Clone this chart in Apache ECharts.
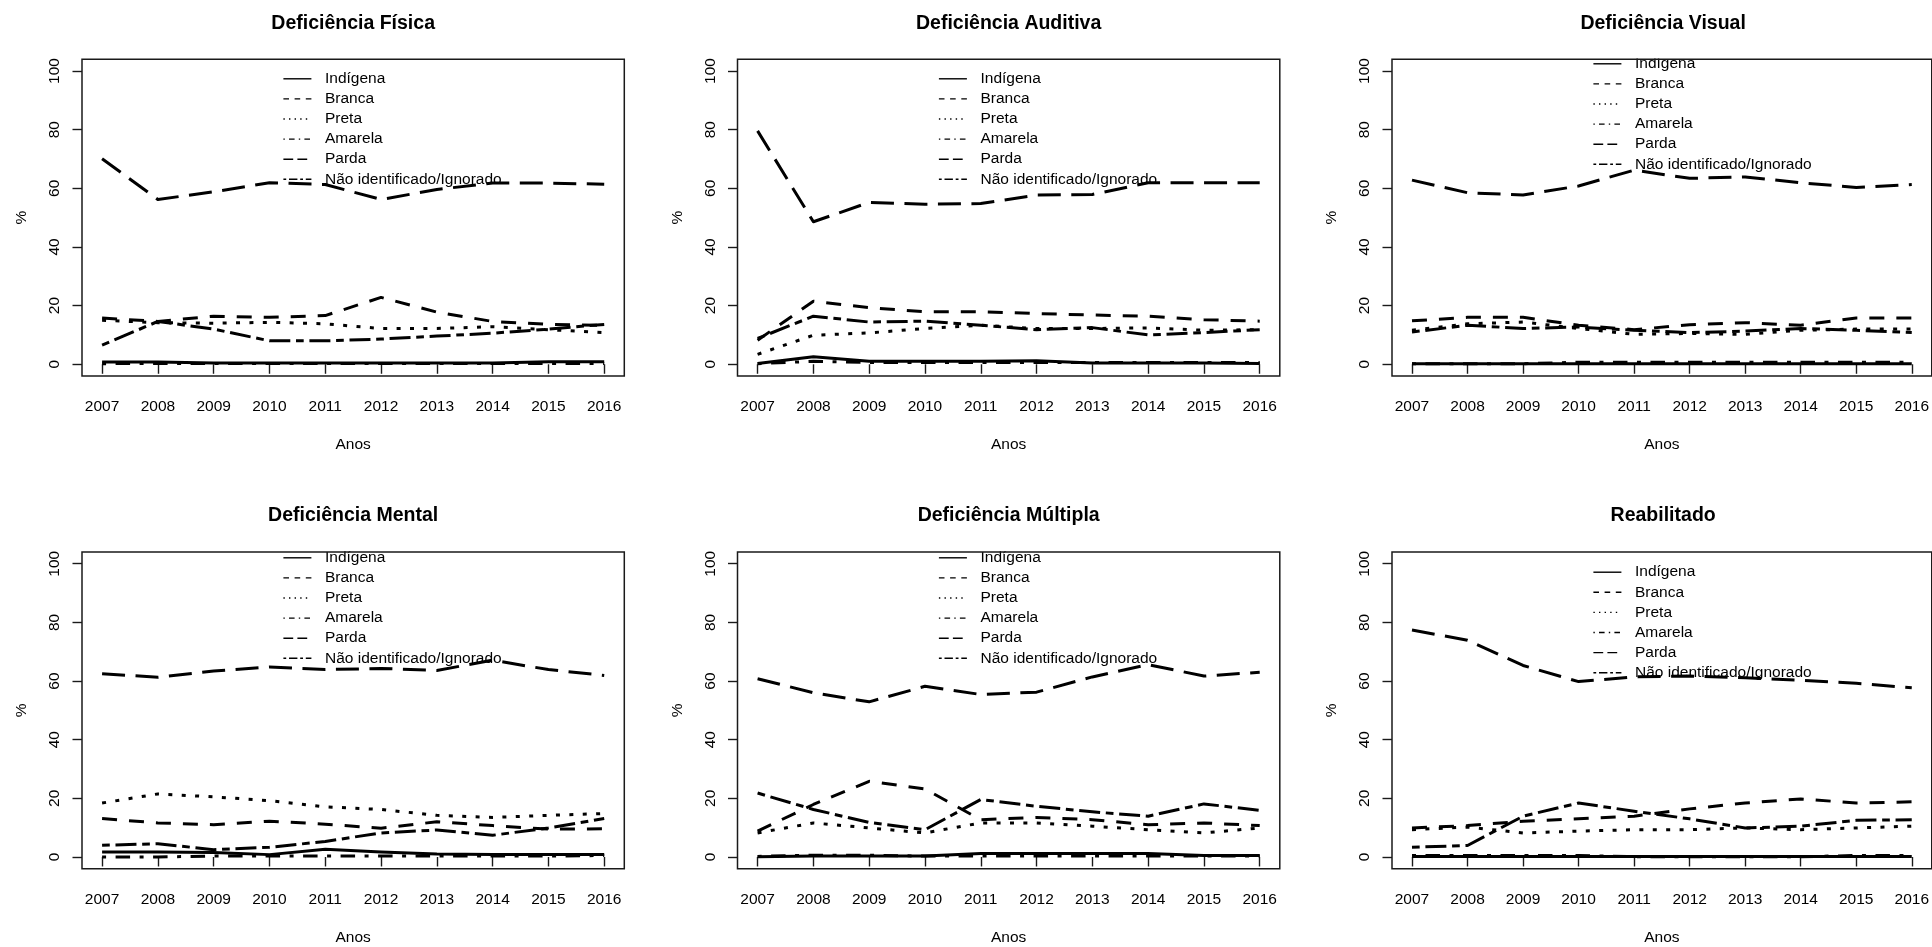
<!DOCTYPE html>
<html>
<head>
<meta charset="utf-8">
<script src="https://cdn.jsdelivr.net/npm/echarts@6/dist/echarts.min.js"></script>
<style>
  html, body { margin: 0; padding: 0; background: #fff; }
  #chart { width: 1932px; height: 947px; }
</style>
</head>
<body>
<div id="chart"></div>
<script>
// Share of workers with disability by colour/race, 2007-2016 (%)
const years = [2007, 2008, 2009, 2010, 2011, 2012, 2013, 2014, 2015, 2016];
const yTicks = [0, 20, 40, 60, 80, 100];
const groups = ['Indígena', 'Branca', 'Preta', 'Amarela', 'Parda', 'Não identificado/Ignorado'];
const titles = ['Deficiência Física', 'Deficiência Auditiva', 'Deficiência Visual',
                'Deficiência Mental', 'Deficiência Múltipla', 'Reabilitado'];

// Each panel: one row per group, in the order of `groups`
const fisica = [
  [0.8, 0.8, 0.4, 0.4, 0.4, 0.4, 0.4, 0.4, 0.9, 0.9],
  [15.8, 14.6, 16.4, 16.0, 16.6, 22.8, 17.8, 14.6, 13.6, 13.3],
  [15.0, 14.2, 14.0, 14.3, 13.8, 12.2, 12.2, 12.8, 11.8, 10.8],
  [0.2, 0.3, 0.3, 0.3, 0.3, 0.3, 0.3, 0.3, 0.3, 0.3],
  [70.1, 56.2, 58.8, 61.9, 61.3, 56.2, 59.6, 61.8, 61.8, 61.4],
  [6.5, 14.6, 12.0, 8.0, 8.0, 8.6, 9.6, 10.6, 12.0, 13.6]
];
const auditiva = [
  [0.3, 2.6, 1.0, 1.0, 1.0, 1.2, 0.4, 0.4, 0.4, 0.3],
  [8.2, 21.5, 19.3, 17.9, 17.9, 17.3, 16.8, 16.4, 15.2, 14.7],
  [3.4, 9.9, 10.7, 12.2, 13.3, 12.2, 12.2, 12.4, 11.6, 11.8],
  [0.2, 1.0, 0.6, 0.6, 0.6, 0.6, 0.6, 0.6, 0.6, 0.6],
  [79.6, 48.6, 55.2, 54.6, 54.8, 57.7, 57.9, 61.9, 61.9, 61.9],
  [8.8, 16.4, 14.4, 14.7, 13.3, 11.8, 12.5, 10.0, 10.8, 11.8]
];
const visual = [
  [0.2, 0.2, 0.2, 0.2, 0.2, 0.2, 0.2, 0.2, 0.2, 0.2],
  [14.8, 16.0, 16.0, 13.3, 11.8, 13.5, 14.2, 13.3, 15.8, 15.8],
  [11.6, 13.8, 14.4, 12.2, 10.2, 10.5, 10.2, 11.6, 12.0, 12.0],
  [0.2, 0.2, 0.2, 0.7, 0.7, 0.7, 0.7, 0.7, 0.7, 0.7],
  [62.8, 58.5, 57.7, 60.8, 66.2, 63.4, 63.9, 61.9, 60.3, 61.3],
  [11.0, 13.3, 12.2, 12.7, 11.6, 10.8, 11.3, 12.2, 11.6, 10.8]
];
const mental = [
  [1.7, 1.7, 1.5, 0.8, 2.6, 1.7, 1.0, 0.8, 0.8, 0.8],
  [13.1, 11.6, 11.0, 12.2, 11.2, 9.8, 12.0, 10.7, 9.5, 9.6],
  [18.4, 21.5, 20.5, 19.2, 17.1, 16.2, 14.2, 13.5, 14.2, 14.8],
  [0.0, 0.0, 0.3, 0.3, 0.3, 0.3, 0.3, 0.3, 0.3, 0.5],
  [62.5, 61.3, 63.4, 64.8, 63.9, 64.3, 63.6, 67.1, 63.9, 61.9],
  [4.0, 4.5, 2.5, 3.3, 5.3, 8.2, 9.2, 7.4, 9.9, 13.1]
];
const multipla = [
  [0.1, 0.3, 0.3, 0.3, 1.2, 1.2, 1.2, 1.2, 0.5, 0.5],
  [8.8, 17.9, 25.8, 23.2, 12.7, 13.5, 12.7, 11.0, 11.6, 10.7],
  [8.2, 11.6, 9.9, 8.2, 11.6, 11.6, 10.5, 9.3, 8.2, 9.9],
  [0.2, 0.6, 0.6, 0.3, 0.3, 0.3, 0.3, 0.3, 0.3, 0.3],
  [60.8, 56.0, 52.9, 58.2, 55.4, 56.2, 61.4, 65.6, 61.7, 63.0],
  [21.8, 16.2, 11.8, 9.3, 19.6, 17.3, 15.4, 13.9, 18.1, 15.9]
];
const reabilitado = [
  [0.2, 0.2, 0.2, 0.2, 0.2, 0.2, 0.2, 0.2, 0.2, 0.2],
  [9.9, 10.7, 12.2, 13.0, 13.9, 16.4, 18.4, 19.8, 18.4, 18.8],
  [9.3, 10.2, 8.2, 8.8, 9.3, 9.3, 9.9, 9.3, 9.9, 10.5],
  [0.5, 0.5, 0.5, 0.5, 0.1, 0.1, 0.1, 0.1, 0.5, 0.5],
  [77.4, 73.9, 65.3, 59.8, 61.4, 61.7, 61.1, 60.3, 59.2, 57.7],
  [3.3, 3.9, 13.9, 18.4, 15.6, 13.0, 9.9, 10.5, 12.5, 12.7]
];
const panels = [fisica, auditiva, visual, mental, multipla, reabilitado];

// Line types: solid, dashed, dotted, dot-dash, long-dash, two-dash
const plotDash = ['solid', [15, 12], [4, 9.4], [4, 9.5, 14.5, 9.5], [23, 10.5], [7.7, 5.7, 21, 5.7]];
const keyDash = ['solid', [5.6, 5.6], [1.4, 4.2], [1.4, 4.2, 5.6, 4.2], [9.8, 4.2], [2.8, 2.8, 8.4, 2.8]];

const FONT = "'Liberation Sans', Arial, sans-serif";
const INK = '#000';
const colLeft = [82, 737.5, 1392];
const rowTop = [59.3, 552];
const boxW = 542.3, boxH = 316.7;
const keyRowOffset = [19, 19, 4, 5.3, 5.3, 19.7];
const keyLeft = 200.7;

const option = {
  animation: false,
  backgroundColor: '#fff',
  title: [], grid: [], xAxis: [], yAxis: [], legend: [], series: [], graphic: []
};

panels.forEach((vals, p) => {
  const left = colLeft[p % 3];
  const top = rowTop[Math.floor(p / 3)];

  option.grid.push({
    left: left, top: top, width: boxW, height: boxH,
    show: true, borderColor: '#1a1a1a', borderWidth: 1.5,
    backgroundColor: 'transparent', z: 20
  });

  option.title.push({
    text: titles[p],
    left: left + boxW / 2, top: top - 46,
    textAlign: 'center', padding: 0,
    textStyle: { fontFamily: FONT, fontSize: 19.5, fontWeight: 'bold', color: INK }
  });

  option.xAxis.push({
    gridIndex: p, type: 'value',
    min: years[0] - 0.36, max: years[years.length - 1] + 0.36,
    name: 'Anos', nameLocation: 'middle', nameGap: 61,
    nameTextStyle: { fontFamily: FONT, fontSize: 15.5, color: INK },
    axisLine: { show: false },
    splitLine: { show: false },
    axisTick: { show: true, inside: false, length: 9.5, customValues: years,
                lineStyle: { color: '#1a1a1a', width: 1.4 } },
    axisLabel: { customValues: years, margin: 23, formatter: v => String(v),
                 fontFamily: FONT, fontSize: 15.5, color: INK }
  });

  option.yAxis.push({
    gridIndex: p, type: 'value', min: -4, max: 104,
    name: '%', nameLocation: 'middle', nameGap: 52,
    nameTextStyle: { fontFamily: FONT, fontSize: 15.5, color: INK },
    axisLine: { show: false },
    splitLine: { show: false },
    axisTick: { show: true, inside: false, length: 9.5, customValues: yTicks,
                lineStyle: { color: '#1a1a1a', width: 1.4 } },
    axisLabel: { customValues: yTicks, rotate: 90, margin: 19, formatter: v => String(v),
                 fontFamily: FONT, fontSize: 15.5, color: INK }
  });

  option.legend.push({
    orient: 'vertical',
    left: left + keyLeft, top: top + keyRowOffset[p] - 7.5,
    padding: 0, itemWidth: 28, itemHeight: 15, itemGap: 4.1,
    selectedMode: false,
    textStyle: { fontFamily: FONT, fontSize: 15.5, color: INK, lineHeight: 15, padding: [0, 0, 0, 8.6] },
    data: groups.map((g, i) => ({
      name: g,
      itemStyle: { opacity: 0 },
      lineStyle: { color: INK, width: 1.4, type: keyDash[i], cap: 'butt' }
    }))
  });

  // the key is clipped at the top edge of the plotting box
  option.graphic.push({
    type: 'rect', silent: true, z: 10,
    shape: { x: left + 150, y: top - 18, width: 330, height: 17.2 },
    style: { fill: '#fff' }
  });

  vals.forEach((row, g) => {
    option.series.push({
      type: 'line', name: groups[g],
      xAxisIndex: p, yAxisIndex: p,
      data: years.map((yr, i) => [yr, row[i]]),
      symbol: 'none', silent: true, z: 2,
      itemStyle: { color: INK },
      lineStyle: { color: INK, width: 3.0, type: plotDash[g], cap: 'butt', join: 'round' }
    });
  });
});

const chart = echarts.init(document.getElementById('chart'), null, { renderer: 'canvas' });
chart.setOption(option);
</script>
</body>
</html>
